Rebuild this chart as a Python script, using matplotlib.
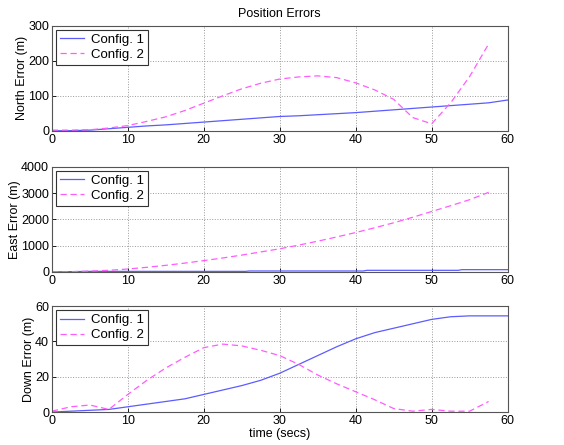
import matplotlib
matplotlib.use("Agg")
import matplotlib.pyplot as plt

plt.rcParams['font.family'] = ['Liberation Sans', 'DejaVu Sans']
plt.rcParams['font.size'] = 9

# time samples (s)
t1 = [0, 2.5, 5, 7.5, 10, 12.5, 15, 17.5, 20, 22.5, 25, 27.5, 30, 32.5, 35,
      37.5, 40, 42.5, 45, 47.5, 50, 52.5, 55, 57.5, 60]
t2 = [0, 2.5, 5, 7.5, 10, 12.5, 15, 17.5, 20, 22.5, 25, 27.5, 30, 32.5, 35,
      37.5, 40, 42.5, 45, 47.5, 50, 52.5, 55, 57.5]

# north error (m)
north1 = [0, 0.5, 2, 6, 10, 14, 17, 21, 25, 29, 33, 37, 41, 43, 46,
          49, 52, 56, 60, 64, 68, 72, 76, 80, 88]
north2 = [2, 2, 3, 8, 15, 27, 40, 58, 79, 100, 120, 136, 148, 154, 157,
          152, 137, 117, 90, 38, 20, 80, 155, 248]

# east error (m)
t_east1 = [0, 2.5, 5, 10, 20, 25.5, 26, 41, 41.5, 53.5, 54, 60]
east1 = [0, 10, 20, 20, 20, 20, 35, 35, 60, 60, 85, 85]
east2 = [0, 8, 30, 60, 110, 175, 250, 335, 430, 530, 640, 760, 880, 1020, 1170,
         1330, 1500, 1680, 1870, 2080, 2300, 2520, 2750, 3030]

# down error (m)
down1 = [0, 0.5, 1, 1.5, 3, 4.5, 6, 7.5, 10, 12.5, 15, 18, 22, 27, 32,
         37, 41.5, 45, 47.5, 50, 52.5, 54, 54.5, 54.5, 54.5]
down2 = [0.5, 3, 4, 1.5, 10, 18, 25, 31, 36.5, 38.5, 37.5, 35, 32, 27, 21,
         16, 11.5, 7, 2, 0.5, 1.5, 0.5, 0.5, 6]

blue = '#5c5cff'
pink = '#ff5cff'

fig = plt.figure(figsize=(5.64, 4.45), dpi=100)
boxes = [[0.092, 0.706, 0.808, 0.236],
         [0.092, 0.389, 0.808, 0.236],
         [0.092, 0.074, 0.808, 0.238]]
panels = [
    (t1, north1, t2, north2, 'North Error (m)', [0, 100, 200, 300]),
    (t_east1, east1, t2, east2, 'East Error (m)', [0, 1000, 2000, 3000, 4000]),
    (t1, down1, t2, down2, 'Down Error (m)', [0, 20, 40, 60]),
]

axes = []
for box, (xa, ya, xb, yb, ylab, yt) in zip(boxes, panels):
    ax = fig.add_axes(box)
    ax.plot(xa, ya, color=blue, lw=0.9, label='Config. 1')
    ax.plot(xb, yb, color=pink, lw=0.9, ls=(0, (5, 3)), label='Config. 2')
    ax.set_xlim(0, 60)
    ax.set_ylim(yt[0], yt[-1])
    ax.set_xticks([0, 10, 20, 30, 40, 50, 60])
    ax.set_yticks(yt)
    ax.set_ylabel(ylab, labelpad=0)
    ax.grid(True, color='#999999', ls=':', lw=0.7)
    ax.tick_params(direction='in', length=3, width=0.6, pad=2, labelsize=9)
    for sp in ax.spines.values():
        sp.set_color('#555555')
        sp.set_linewidth(0.8)
    leg = ax.legend(loc='upper left', fancybox=False, framealpha=1,
                    edgecolor='#333333', borderaxespad=0.3, handlelength=1.8,
                    handletextpad=0.6, borderpad=0.3, labelspacing=0.2,
                    fontsize=9.5)
    leg.get_frame().set_linewidth(0.8)
    axes.append(ax)

axes[0].set_title('Position Errors', fontsize=9, pad=6)
axes[2].set_xlabel('time (secs)', labelpad=1)

fig.savefig('out.png', dpi=100)
